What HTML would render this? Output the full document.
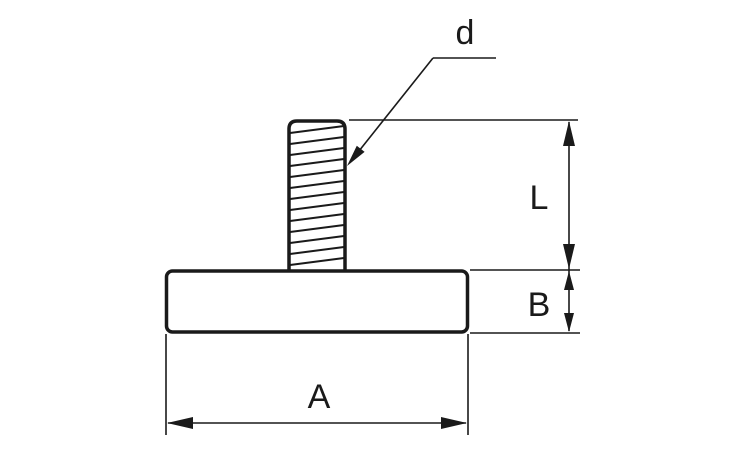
<!DOCTYPE html>
<html><head><style>html,body{margin:0;padding:0;background:#fff}svg{display:block}</style></head>
<body>
<svg width="750" height="450" viewBox="0 0 750 450" xmlns="http://www.w3.org/2000/svg">
<g stroke="#1a1a1a" fill="none">
<!-- hatch -->
<g stroke-width="2">
<line x1="290" y1="133" x2="344" y2="126"/>
<line x1="290" y1="144" x2="344" y2="137"/>
<line x1="290" y1="155" x2="344" y2="148"/>
<line x1="290" y1="166" x2="344" y2="159"/>
<line x1="290" y1="177" x2="344" y2="170"/>
<line x1="290" y1="188" x2="344" y2="181"/>
<line x1="290" y1="199" x2="344" y2="192"/>
<line x1="290" y1="210" x2="344" y2="203"/>
<line x1="290" y1="221" x2="344" y2="214"/>
<line x1="290" y1="232" x2="344" y2="225"/>
<line x1="290" y1="243" x2="344" y2="236"/>
<line x1="290" y1="254" x2="344" y2="247"/>
<line x1="290" y1="265" x2="344" y2="258"/>
</g>
<path d="M289 271 V129 Q289 121 297 121 H337 Q345 121 345 129 V271" stroke-width="3.5"/>
<rect x="166.5" y="271" width="301" height="61" rx="6" stroke-width="3.5"/>
<g stroke-width="1.6">
<line x1="349" y1="120" x2="578" y2="120"/>
<line x1="470" y1="270" x2="580" y2="270"/>
<line x1="470" y1="333" x2="580" y2="333"/>
<line x1="569" y1="122" x2="569" y2="331"/>
<line x1="166" y1="334" x2="166" y2="435"/>
<line x1="468" y1="334" x2="468" y2="435"/>
<line x1="168" y1="423" x2="466" y2="423"/>
<line x1="496" y1="58" x2="433" y2="58"/>
<line x1="433" y1="58" x2="355" y2="156"/>
</g>
</g>
<g fill="#1a1a1a">
<polygon points="347,166 364.6,151.9 356.8,145.7"/>
<polygon points="569,121 563,146 575,146"/>
<polygon points="569,269 563,244 575,244"/>
<polygon points="569,271 564,290 574,290"/>
<polygon points="569,332 564,313 574,313"/>
<polygon points="167,423 193,417 193,429"/>
<polygon points="467,423 441,417 441,429"/>
</g>
<g font-family="Liberation Sans, sans-serif" font-size="34" fill="#1a1a1a" text-anchor="middle">
<text x="465" y="44">d</text>
<text x="539" y="209">L</text>
<text x="539" y="316">B</text>
<text x="319" y="408">A</text>
</g>
</svg>
</body></html>
